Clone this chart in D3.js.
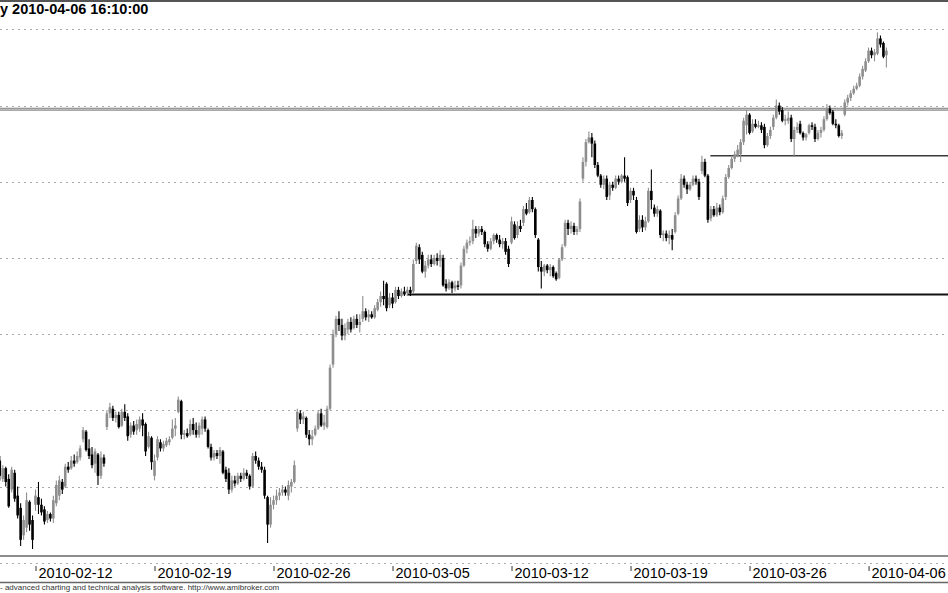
<!DOCTYPE html>
<html><head><meta charset="utf-8">
<script src="https://cdn.jsdelivr.net/npm/d3@7"></script>
<style>body{margin:0;background:#fff;overflow:hidden}svg{display:block}</style>
</head><body>
<script>
// Trading days shown (first day only partially visible: last 4 bars)
const days = ["2010-02-10","2010-02-11","2010-02-12","2010-02-15","2010-02-16","2010-02-17","2010-02-18","2010-02-19",
"2010-02-22","2010-02-23","2010-02-24","2010-02-25","2010-02-26","2010-03-01","2010-03-02","2010-03-03","2010-03-04","2010-03-05",
"2010-03-08","2010-03-09","2010-03-10","2010-03-11","2010-03-12","2010-03-15","2010-03-16","2010-03-17","2010-03-18","2010-03-19",
"2010-03-22","2010-03-23","2010-03-24","2010-03-25","2010-03-26","2010-03-29","2010-03-30","2010-03-31","2010-04-01","2010-04-06"];
const barsPerDay = 8;
const firstDayBars = 4;
const tickDates = ["2010-02-12","2010-02-19","2010-02-26","2010-03-05","2010-03-12","2010-03-19","2010-03-26","2010-04-06"];
const gridLevels = [2200,2250,2300,2350,2400,2450,2500,2550];
const title = "y 2010-04-06 16:10:00";
const footer = "- advanced charting and technical analysis software. http://www.amibroker.com";
// horizontal support/resistance lines: [start bar, price]
const hLineResist = [0, 2497.5];
const hLineUpper = [239, 2467];
const hLineLower = [137, 2376];
// bars: [open, high, low, close]
const bars = [
[2267,2270,2254,2257],[2255,2264,2253,2262],[2262,2263,2250,2253],[2255,2258,2236,2237],[2248,2263,2246,2261],[2259,2261,2240,2242],[2244,2250,2229,2231],[2236,2239,2211,2215],
[2218,2231,2215,2228],[2223,2246,2220,2241],[2240,2241,2221,2225],[2228,2231,2209,2215],[2238,2248,2234,2244],[2243,2253,2232,2238],[2238,2242,2231,2233],[2235,2237,2225,2227],
[2228,2234,2226,2232],[2232,2233,2227,2229],[2229,2244,2226,2241],[2239,2254,2237,2251],[2244,2257,2241,2254],[2253,2255,2245,2248],[2250,2265,2249,2263],[2263,2266,2259,2261],
[2262,2270,2261,2267],[2267,2271,2263,2265],[2266,2273,2265,2270],[2269,2277,2267,2275],[2281,2289,2279,2287],[2286,2287,2273,2274],[2275,2281,2268,2270],[2271,2276,2262,2264],
[2265,2275,2259,2273],[2271,2272,2251,2257],[2257,2273,2255,2269],[2269,2271,2263,2265],[2289,2300,2287,2298],[2298,2305,2295,2302],[2301,2303,2293,2295],[2295,2299,2292,2297],
[2297,2299,2288,2289],[2290,2301,2289,2299],[2299,2304,2293,2295],[2296,2298,2280,2283],[2284,2292,2282,2290],[2290,2293,2284,2286],[2287,2294,2284,2291],[2288,2296,2286,2294],
[2294,2298,2283,2290],[2291,2292,2270,2273],[2276,2286,2275,2283],[2282,2283,2261,2266],[2257,2271,2254,2267],[2269,2283,2267,2281],[2279,2281,2273,2275],[2275,2280,2273,2278],
[2277,2282,2276,2280],[2279,2283,2277,2281],[2282,2294,2281,2288],[2288,2295,2283,2290],[2299,2309,2298,2307],[2306,2307,2281,2284],[2284,2287,2281,2285],[2285,2288,2282,2283],
[2284,2294,2283,2291],[2291,2295,2284,2287],[2287,2292,2282,2284],[2284,2292,2282,2290],[2288,2296,2284,2294],[2294,2296,2286,2288],[2287,2288,2275,2276],[2276,2278,2267,2269],
[2269,2274,2267,2272],[2272,2274,2268,2270],[2270,2276,2265,2274],[2273,2274,2258,2259],[2261,2263,2253,2255],[2259,2262,2245,2248],[2248,2257,2246,2254],[2254,2257,2250,2252],
[2252,2259,2251,2257],[2257,2259,2253,2255],[2255,2262,2254,2259],[2259,2261,2255,2257],[2257,2258,2248,2250],[2250,2272,2249,2270],[2270,2273,2265,2267],[2267,2269,2261,2263],
[2263,2266,2259,2261],[2261,2263,2242,2244],[2243,2244,2213,2225],[2225,2243,2223,2238],[2238,2244,2235,2241],[2241,2248,2238,2244],[2244,2249,2241,2246],[2246,2251,2244,2248],
[2248,2250,2244,2246],[2244,2254,2241,2251],[2250,2255,2246,2253],[2253,2267,2252,2264],[2288,2301,2286,2299],[2298,2300,2291,2294],[2294,2299,2291,2296],[2295,2296,2282,2284],
[2284,2287,2277,2281],[2281,2287,2277,2283],[2284,2290,2283,2288],[2288,2300,2287,2298],[2298,2301,2289,2290],[2290,2297,2287,2292],[2289,2303,2288,2301],[2301,2330,2300,2328],
[2330,2353,2328,2350],[2350,2362,2348,2360],[2360,2365,2352,2356],[2356,2360,2346,2349],[2349,2357,2346,2354],[2353,2360,2350,2358],[2358,2361,2351,2353],[2354,2362,2353,2360],
[2360,2363,2354,2356],[2356,2363,2351,2358],[2360,2375,2358,2365],[2365,2367,2359,2361],[2361,2366,2358,2363],[2363,2365,2360,2361],[2361,2369,2360,2367],[2366,2373,2365,2371],
[2371,2378,2368,2375],[2375,2385,2369,2373],[2383,2384,2365,2367],[2369,2377,2367,2374],[2374,2377,2367,2370],[2371,2381,2370,2379],[2379,2381,2373,2375],[2375,2380,2374,2378],
[2378,2381,2375,2376],[2377,2381,2375,2379],[2379,2381,2375,2377],[2378,2399,2377,2396],[2398,2410,2396,2408],[2407,2409,2396,2399],[2402,2404,2390,2391],[2391,2398,2387,2395],
[2395,2402,2393,2399],[2399,2402,2394,2396],[2396,2402,2395,2400],[2400,2403,2395,2398],[2398,2405,2394,2402],[2400,2402,2381,2382],[2383,2386,2378,2380],[2380,2386,2379,2384],
[2384,2385,2377,2380],[2380,2385,2378,2382],[2382,2385,2379,2381],[2382,2397,2380,2395],[2395,2408,2394,2406],[2406,2412,2403,2410],[2410,2414,2408,2411],[2411,2425,2409,2419],
[2419,2421,2413,2416],[2416,2421,2414,2419],[2419,2421,2415,2417],[2417,2418,2407,2409],[2409,2411,2404,2406],[2406,2413,2405,2411],[2411,2416,2409,2415],[2415,2416,2410,2412],
[2412,2415,2407,2409],[2409,2413,2406,2411],[2411,2413,2402,2404],[2406,2408,2394,2396],[2410,2427,2409,2424],[2422,2424,2412,2413],[2415,2424,2413,2421],[2421,2425,2417,2419],
[2423,2434,2421,2432],[2432,2436,2428,2429],[2430,2440,2429,2438],[2438,2440,2430,2432],[2432,2433,2413,2415],[2412,2413,2391,2394],[2394,2398,2380,2391],[2391,2396,2388,2395],
[2395,2396,2390,2392],[2392,2396,2388,2394],[2394,2395,2387,2388],[2390,2391,2385,2386],[2387,2400,2386,2399],[2399,2409,2398,2407],[2408,2425,2407,2423],[2423,2425,2415,2419],
[2419,2424,2416,2421],[2421,2423,2415,2417],[2417,2421,2415,2419],[2419,2439,2417,2437],[2452,2466,2450,2463],[2463,2478,2460,2476],[2476,2483,2475,2479],[2479,2482,2466,2475],
[2475,2477,2459,2461],[2461,2463,2453,2454],[2454,2455,2446,2448],[2448,2454,2445,2452],[2452,2454,2438,2440],[2441,2450,2438,2448],[2448,2450,2444,2446],[2446,2454,2445,2452],
[2452,2454,2448,2450],[2450,2455,2449,2454],[2454,2466,2450,2452],[2453,2454,2434,2436],[2438,2446,2436,2444],[2444,2446,2438,2441],[2438,2440,2416,2417],[2419,2428,2417,2425],
[2425,2428,2417,2420],[2420,2427,2418,2424],[2424,2446,2423,2444],[2444,2458,2432,2438],[2433,2435,2427,2429],[2429,2434,2427,2432],[2431,2432,2413,2415],[2415,2418,2411,2416],
[2416,2418,2411,2413],[2413,2418,2409,2415],[2415,2419,2405,2412],[2417,2430,2416,2428],[2429,2441,2428,2439],[2439,2455,2438,2452],[2452,2454,2446,2448],[2448,2450,2442,2445],
[2445,2450,2444,2448],[2448,2454,2447,2452],[2452,2454,2448,2450],[2450,2452,2438,2440],[2457,2467,2455,2463],[2463,2465,2453,2454],[2454,2455,2423,2425],[2426,2434,2424,2432],
[2432,2434,2427,2428],[2428,2436,2427,2433],[2433,2435,2428,2430],[2430,2441,2429,2439],[2440,2455,2438,2453],[2453,2461,2452,2459],[2459,2467,2458,2465],[2465,2470,2463,2468],
[2467,2474,2466,2471],[2468,2478,2463,2476],[2476,2492,2474,2490],[2487,2497,2481,2494],[2494,2495,2481,2482],[2483,2491,2482,2488],[2488,2491,2485,2486],[2486,2490,2485,2487],
[2487,2489,2482,2484],[2486,2488,2472,2474],[2474,2482,2473,2480],[2480,2486,2478,2484],[2486,2494,2484,2492],[2492,2504,2491,2500],[2500,2502,2494,2496],[2497,2499,2489,2490],
[2490,2494,2487,2491],[2490,2496,2488,2492],[2492,2494,2476,2478],[2478,2486,2467,2484],[2484,2489,2482,2486],[2488,2490,2481,2482],[2482,2483,2477,2479],[2479,2482,2477,2481],
[2482,2488,2481,2487],[2487,2489,2484,2486],[2486,2488,2476,2478],[2478,2484,2477,2482],[2482,2486,2479,2484],[2484,2493,2483,2491],[2491,2501,2490,2498],[2498,2500,2494,2495],
[2496,2497,2487,2488],[2488,2491,2485,2487],[2487,2488,2479,2480],[2480,2484,2478,2482],[2494,2504,2493,2502],[2502,2507,2500,2505],[2505,2510,2503,2508],[2508,2513,2507,2511],
[2511,2515,2510,2513],[2513,2521,2512,2519],[2519,2526,2517,2524],[2523,2531,2522,2529],[2529,2538,2528,2536],[2536,2538,2531,2533],[2533,2537,2529,2535],[2534,2548,2533,2544],
[2544,2546,2538,2540],[2541,2542,2531,2532],[2533,2538,2525,2536]
];

const W = 948, H = 593;
const svg = d3.select("body").append("svg").attr("width", W).attr("height", H)
  .style("font-family", "'Liberation Sans', Arial, sans-serif");

const x = d3.scaleLinear().domain([0, bars.length - 1]).range([-0.7, 885.9]);
const y = d3.scaleLinear().domain([2200, 2550]).range([562.7, 29.3]);
const dayStart = d => days.indexOf(d) * barsPerDay - (barsPerDay - firstDayBars);

// grid
svg.append("g").selectAll("line").data(gridLevels).join("line")
  .attr("x1", 0).attr("x2", W)
  .attr("y1", d => Math.round(y(d)) + 0.5).attr("y2", d => Math.round(y(d)) + 0.5)
  .attr("stroke", "#aaa").attr("stroke-width", 1).attr("stroke-dasharray", "2,4");

// frame lines
svg.append("rect").attr("x", 0).attr("y", 0).attr("width", W).attr("height", 2).attr("fill", "#555");
svg.append("line").attr("x1", 0).attr("x2", W).attr("y1", 556).attr("y2", 556).attr("stroke", "#666").attr("stroke-width", 1.5);
svg.append("line").attr("x1", 0).attr("x2", W).attr("y1", 582.5).attr("y2", 582.5).attr("stroke", "#666").attr("stroke-width", 1.5);

// horizontal levels
svg.append("line").attr("x1", x(hLineResist[0]) ).attr("x2", W)
  .attr("y1", y(hLineResist[1])).attr("y2", y(hLineResist[1]))
  .attr("stroke", "#8c8c8c").attr("stroke-width", 3);
svg.append("line").attr("x1", x(hLineResist[0])).attr("x2", W)
  .attr("y1", y(hLineResist[1])).attr("y2", y(hLineResist[1]))
  .attr("stroke", "#d4d4d4").attr("stroke-width", 0.8);
svg.append("line").attr("x1", x(hLineUpper[0])).attr("x2", W)
  .attr("y1", y(hLineUpper[1])).attr("y2", y(hLineUpper[1]))
  .attr("stroke", "#3a3a3a").attr("stroke-width", 1.5);
svg.append("line").attr("x1", x(hLineLower[0])).attr("x2", W)
  .attr("y1", y(hLineLower[1])).attr("y2", y(hLineLower[1]))
  .attr("stroke", "#111").attr("stroke-width", 2);

// candles
const upCol = "#8e8e8e", dnCol = "#000";
const g = svg.append("g");
g.selectAll("line").data(bars).join("line")
  .attr("x1", (d, i) => x(i) + 0.5).attr("x2", (d, i) => x(i) + 0.5)
  .attr("y1", d => y(d[1])).attr("y2", d => y(d[2]))
  .attr("stroke", d => d[3] >= d[0] ? upCol : dnCol).attr("stroke-width", 1.1);
g.selectAll("rect").data(bars).join("rect")
  .attr("x", (d, i) => x(i) - 0.8)
  .attr("width", 2.6)
  .attr("y", d => y(Math.max(d[0], d[3])))
  .attr("height", d => Math.max(1.2, Math.abs(y(d[0]) - y(d[3]))))
  .attr("fill", d => d[3] >= d[0] ? upCol : dnCol);

// x axis
const tickIdx = tickDates.map(dayStart);
const axis = d3.axisBottom(x).tickValues(tickIdx).tickSize(5)
  .tickFormat((d, i) => tickDates[i]);
const ax = svg.append("g").attr("transform", "translate(0,566)").call(axis);
ax.select(".domain").remove();
ax.selectAll(".tick line").attr("stroke", "#333").attr("transform", "translate(0.5,0)");
ax.selectAll(".tick text").attr("text-anchor", "start").attr("x", 3).attr("y", 12).attr("dy", 0)
  .attr("fill", "#000").style("font-size", "14.5px").style("font-family", "'Liberation Sans', Arial, sans-serif");

// title
svg.append("text").attr("x", 0).attr("y", 14).text(title)
  .style("font-size", "14.5px").style("font-weight", "bold").attr("fill", "#000");
// footer
svg.append("text").attr("x", 0).attr("y", 590).text(footer)
  .style("font-size", "8px").attr("fill", "#333");
</script>
</body></html>
